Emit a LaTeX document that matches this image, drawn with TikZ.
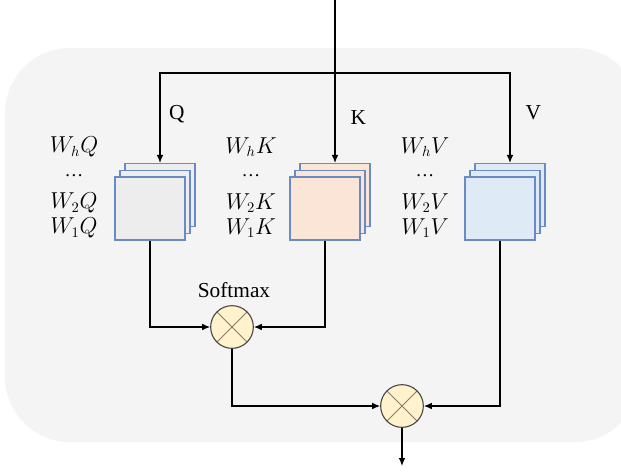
\documentclass[tikz,border=0pt]{standalone}
\usepackage{fontspec}
\setmainfont{Liberation Serif}
\usetikzlibrary{arrows.meta, positioning, calc}
\definecolor{bggray}{HTML}{F4F4F4}
\definecolor{layerblue}{HTML}{6A8AC4}
\definecolor{qfill}{HTML}{EDEDED}
\definecolor{kfill}{HTML}{FBE5D6}
\definecolor{vfill}{HTML}{DEEBF7}
\definecolor{mulfill}{HTML}{FFF2CC}
\definecolor{mulcross}{HTML}{8C7B62}
\tikzset{%
   % one sheet of a head stack
   layer/.style={
      draw=layerblue,
      line width=0.8pt,
      minimum width=52.5pt,
      minimum height=47.25pt,
      inner sep=0pt
   },
   % product node: circle with a cross in it
   mul/.style={
      circle,
      draw=black!75,
      fill=mulfill,
      line width=0.8pt,
      minimum size=32pt,
      inner sep=0pt,
      path picture={
         \draw[mulcross, line width=0.7pt]
            (path picture bounding box.north west) -- (path picture bounding box.south east)
            (path picture bounding box.north east) -- (path picture bounding box.south west);
      }
   },
   wire/.style={
      line width=0.9pt
   },
   feed/.style={
      wire,
      -{Latex[length=6pt, width=5pt]}
   },
   head/.style={font=\fontsize{16}{18}\selectfont, inner sep=0pt},
   dots/.style={font=\fontsize{14}{16}\selectfont, inner sep=0pt, anchor=base},
   lbl/.style={font=\fontsize{16}{18}\selectfont},
}

\begin{document}
\begin{tikzpicture}[x=0.75pt, y=-0.75pt]
   \useasboundingbox (0,0) rectangle (621,472);
   \begin{scope}
      \clip (0,0) rectangle (621,472);
      \fill[bggray, rounded corners=48.75pt] (5,48) rectangle (640,442);
   \end{scope}

   % stacks of heads
   \foreach \n/\x/\c in {Q/150/qfill, K/325/kfill, V/500/vfill}{
      \node[layer, fill=\c] (\n-back) at (\x+10,195) {};
      \node[layer, fill=\c] (\n-mid) at (\x+5,201.75) {};
      \node[layer, fill=\c] (\n) at (\x,208.5) {};
   }
   \foreach \n/\x in {Q/74, K/251, V/425}{
      \node[head] (\n-h) at (\x,147) {$W_h\n$};
      \node[dots] (\n-d) at (\x,176) {…};
      \node[head] (\n-2) at (\x,203) {$W_2\n$};
      \node[head] (\n-1) at (\x,228) {$W_1\n$};
   }

   \node[mul] (M1) at (232,327) {};
   \node[mul] (M2) at (402,406) {};
   \node[lbl] (softmax) at (234,290) {Softmax};

   \coordinate (in) at (335,0);
   \coordinate (split) at (335,73);
   \coordinate (out) at (402,466);

   \draw[wire] (in) -- (split);
   \draw[feed] (split) -| (Q-back.north)
      node[lbl, pos=0.73, right=3pt] (Q-lbl) {Q};
   \draw[feed] (split) -- (K-back.north)
      node[lbl, pos=0.5, right=8pt] (K-lbl) {K};
   \draw[feed] (split) -| (V-back.north)
      node[lbl, pos=0.72, right=8pt] (V-lbl) {V};

   \draw[feed] (Q.south) |- (M1.west);
   \draw[feed] (K.south) |- (M1.east);
   \draw[feed] (V.south) |- (M2.east);
   \draw[feed] (M1.south) |- (M2.west);
   \draw[feed] (M2.south) -- (out);
\end{tikzpicture}
\end{document}
